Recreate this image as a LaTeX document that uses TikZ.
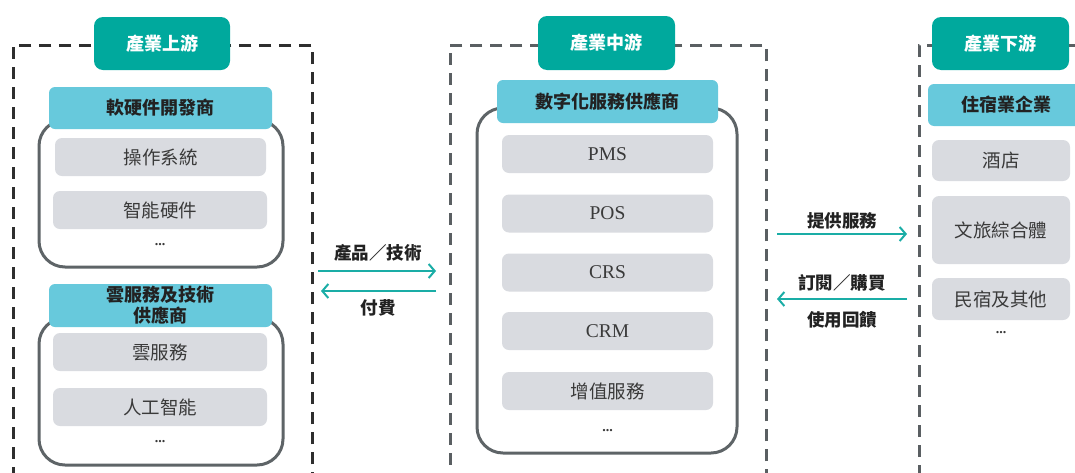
\documentclass[tikz,border=0pt]{standalone}
\usepackage{fontspec}
\setmainfont{Liberation Serif}
\newfontfamily\cjk{Noto Sans CJK TC}
\usetikzlibrary{arrows.meta}

\definecolor{tealc}{HTML}{00A99D}
\definecolor{bluec}{HTML}{67C9DC}
\definecolor{grayc}{HTML}{D9DBE0}
\definecolor{framec}{HTML}{5E6467}
\definecolor{zonedark}{HTML}{2E2E2E}
\definecolor{zonegray}{HTML}{5A5F62}
\definecolor{flowc}{HTML}{1AADA6}
\definecolor{inkc}{HTML}{222222}
\definecolor{itemink}{HTML}{3A3A3A}

\begin{document}
\begin{tikzpicture}[x=1pt,y=-1pt,
  zone/.style={line width=2.6pt, dash pattern=on 12pt off 8pt},
  stage/.style={fill=tealc, rounded corners=9pt, text=white, inner sep=0pt,
    font=\cjk\bfseries\fontsize{18}{21}\selectfont},
  group/.style={fill=bluec, rounded corners=6pt, text=inkc, inner sep=0pt, align=center,
    font=\cjk\bfseries\fontsize{18}{21}\selectfont},
  frame/.style={draw=framec, fill=white, line width=3pt, rounded corners=26pt, inner sep=0pt},
  item/.style={fill=grayc, rounded corners=7pt, text=itemink, inner sep=0pt,
    font=\cjk\fontsize{18.5}{21}\selectfont},
  code/.style={item, font=\fontsize{19.5}{21}\selectfont},
  more/.style={text=itemink, inner sep=0pt, font=\bfseries\fontsize{14}{15}\selectfont},
  flow/.style={draw=flowc, line width=2pt, -{Straight Barb[length=6pt,width=14pt]}},
  flowlabel/.style={text=inkc, inner sep=0pt, font=\cjk\bfseries\fontsize{17.5}{20}\selectfont},
]
\useasboundingbox (0,0) rectangle (1075,472);
\clip (0,0) rectangle (1075,472);

% dashed zones
\node[zone, draw=zonedark, minimum width=299pt, minimum height=460pt, anchor=north west] (upzone) at (12,44) {};
\node[zone, draw=zonegray, minimum width=316pt, minimum height=460pt, anchor=north west] (midzone) at (449,44) {};
\node[zone, draw=zonegray, minimum width=200pt, minimum height=460pt, anchor=north west] (downzone) at (918,44) {};

% stage headers
\node[stage, minimum width=136pt, minimum height=53pt] (up) at (162,43.5) {產業上游};
\node[stage, minimum width=137pt, minimum height=54pt] (mid) at (606.5,43) {產業中游};
\node[stage, minimum width=137pt, minimum height=53pt] (down) at (1000.5,43.5) {產業下游};

% upstream: software & hardware developers
\node[frame, minimum width=244pt, minimum height=147pt] (hwframe) at (161,193.5) {};
\node[group, minimum width=223pt, minimum height=42pt] (hw) at (160.5,108) {軟硬件開發商};
\node[item, minimum width=211pt, minimum height=38pt] (os) at (160.5,157) {操作系統};
\node[item, minimum width=214pt, minimum height=38pt] (smart) at (160,210) {智能硬件};
\node[more] (hwmore) at (160,245) {...};

% upstream: cloud & technology suppliers
\node[frame, minimum width=244pt, minimum height=147pt] (cloudframe) at (161,391.5) {};
\node[group, minimum width=223pt, minimum height=43pt] (cloud) at (160.5,305.5)
  {\fontsize{18}{23}\selectfont 雲服務及技術\\供應商};
\node[item, minimum width=214pt, minimum height=38pt] (cloudsvc) at (160,352) {雲服務};
\node[item, minimum width=214pt, minimum height=38pt] (ai) at (160,407) {人工智能};
\node[more] (cloudmore) at (160,442) {...};

% midstream: digital service providers
\node[frame, minimum width=260pt, minimum height=345pt] (digframe) at (607,280.5) {};
\node[group, minimum width=221pt, minimum height=43pt] (dig) at (607.5,101.5) {數字化服務供應商};
\node[code, minimum width=211pt, minimum height=38pt] (pms) at (607.5,154) {PMS};
\node[code, minimum width=211pt, minimum height=38pt] (pos) at (607.5,213.5) {POS};
\node[code, minimum width=211pt, minimum height=38pt] (crs) at (607.5,272.5) {CRS};
\node[code, minimum width=211pt, minimum height=38pt] (crm) at (607.5,331) {CRM};
\node[item, minimum width=211pt, minimum height=38pt] (vas) at (607.5,391) {增值服務};
\node[more] (digmore) at (607.5,431) {...};

% downstream: accommodation businesses
\node[group, minimum width=157pt, minimum height=42pt] (lodging) at (1006.5,105) {住宿業企業};
\node[item, minimum width=138pt, minimum height=41pt] (hotel) at (1001,160.5) {酒店};
\node[item, minimum width=138pt, minimum height=68pt] (resort) at (1001,230) {文旅綜合體};
\node[item, minimum width=138pt, minimum height=42pt] (bnb) at (1001,299) {民宿及其他};
\node[more] (lodgemore) at (1001,333) {...};

% flows between upstream and midstream
\coordinate (u1) at (318,271);
\coordinate (m1) at (436,271);
\coordinate (m2) at (436,291);
\coordinate (u2) at (321,291);
\draw[flow] (u1) -- (m1);
\draw[flow] (m2) -- (u2);
\node[flowlabel] (prod) at (378,253) {產品／技術};
\node[flowlabel] (pay) at (378,308) {付費};

% flows between midstream and downstream
\coordinate (m3) at (777,234);
\coordinate (d1) at (907,234);
\coordinate (d2) at (907,299);
\coordinate (m4) at (777,299);
\draw[flow] (m3) -- (d1);
\draw[flow] (d2) -- (m4);
\node[flowlabel] (serve) at (842,221) {提供服務};
\node[flowlabel] (buy) at (842,283) {訂閱／購買};
\node[flowlabel] (feedback) at (842,320) {使用回饋};
\end{tikzpicture}
\end{document}
